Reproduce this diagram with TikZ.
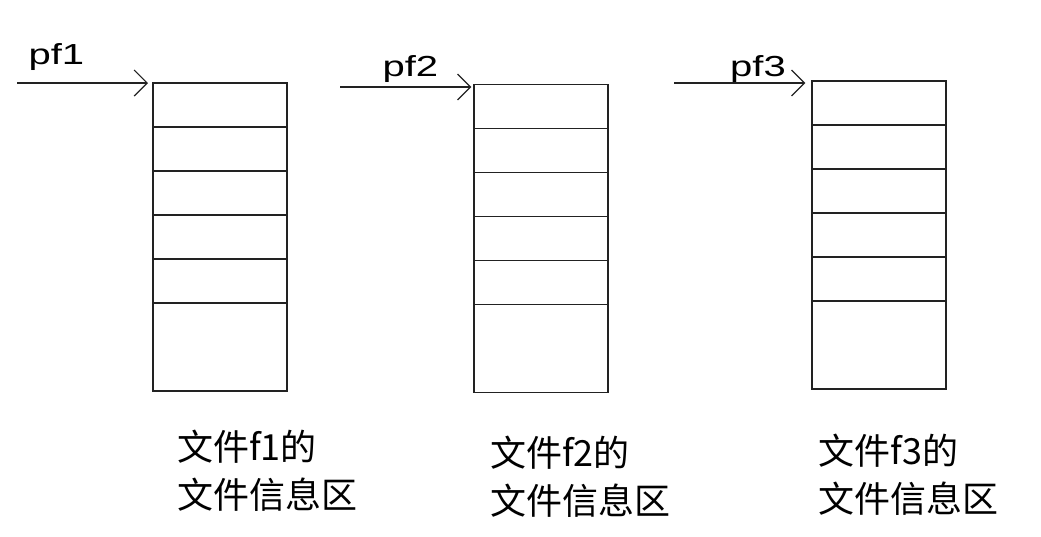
\documentclass[tikz,border=0pt]{standalone}
\usepackage{fontspec}
\setmainfont{Liberation Sans}
\newfontfamily\cjk{Noto Sans CJK SC}
\usetikzlibrary{arrows.meta,positioning}
\definecolor{LineGray}{HTML}{222222}

\begin{document}
\begin{tikzpicture}[x=1pt,y=-1pt,
    cell/.style={draw=LineGray,line width=1.4pt,minimum width=134pt,minimum height=44pt,
                 inner sep=0pt,outer sep=0pt,anchor=north west},
    tall/.style={cell,minimum height=88pt},
    ptr/.style={-{Straight Barb[length=13pt,width=26pt]},line width=1.2pt,LineGray},
    pname/.style={font=\fontsize{29}{34}\selectfont,inner sep=0pt,anchor=base west},
    info/.style={font=\cjk\fontsize{36}{48}\selectfont,align=left,inner sep=0pt,anchor=west}
  ]
  \useasboundingbox (0,0) rectangle (1041,536);
  \foreach \b/\x/\y in {1/153/83,2/474/84.5,3/812/81}{
    \node[cell] (b\b c1) at (\x,\y) {};
    \foreach \r [count=\p] in {2,...,5}{
      \node[cell,below=0pt of b\b c\p] (b\b c\r) {};
    }
    \node[tall,below=0pt of b\b c5] (b\b c6) {};
  }
  \coordinate (s1) at (17,83);
  \coordinate (s2) at (340,87);
  \coordinate (s3) at (674,83);
  \draw[ptr,shorten >=5pt]   (s1) -- (s1 -| b1c1.west);
  \draw[ptr,shorten >=2.6pt] (s2) -- (s2 -| b2c1.west);
  \draw[ptr,shorten >=6.6pt] (s3) -- (s3 -| b3c1.west);
  \node[pname] (pf1) at (28.3,64.3) {\scalebox{1.38}[1]{pf1}};
  \node[pname] (pf2) at (382.3,76)  {\scalebox{1.38}[1]{pf2}};
  \node[pname] (pf3) at (730,76.5)  {\scalebox{1.38}[1]{pf3}};
  \node[info] (t1) at (177,470.5) {文件f1的\\文件信息区};
  \node[info] (t2) at (490,477)   {文件f2的\\文件信息区};
  \node[info] (t3) at (818.5,475) {文件f3的\\文件信息区};
\end{tikzpicture}
\end{document}
